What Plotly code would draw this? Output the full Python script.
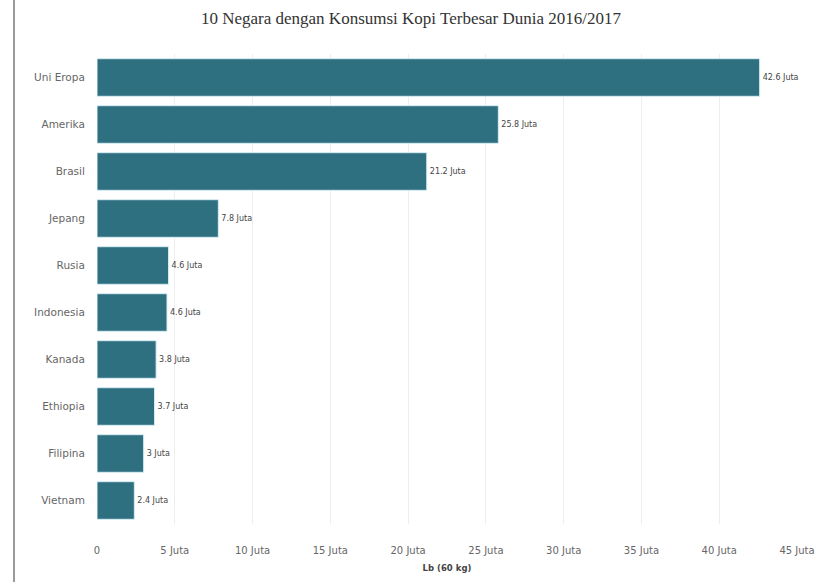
import plotly.graph_objects as go

countries = ["Uni Eropa", "Amerika", "Brasil", "Jepang", "Rusia",
             "Indonesia", "Kanada", "Ethiopia", "Filipina", "Vietnam"]
values = [42.6, 25.8, 21.2, 7.8, 4.6, 4.5, 3.8, 3.7, 3.0, 2.4]
labels = ["42.6 Juta", "25.8 Juta", "21.2 Juta", "7.8 Juta", "4.6 Juta",
          "4.6 Juta", "3.8 Juta", "3.7 Juta", "3 Juta", "2.4 Juta"]
tick_vals = [0, 5, 10, 15, 20, 25, 30, 35, 40, 45]
tick_text = ["0", "5 Juta", "10 Juta", "15 Juta", "20 Juta", "25 Juta",
             "30 Juta", "35 Juta", "40 Juta", "45 Juta"]

W, H = 822, 582
ml, mr, mt, mb = 97, 25, 54, 58

fig = go.Figure(go.Bar(
    x=values, y=countries, orientation="h",
    marker=dict(color="#2e6f80", line=dict(color="#d8eef4", width=1)),
    text=labels, textposition="outside", cliponaxis=False,
    textfont=dict(size=8, color="#444", family="DejaVu Sans"),
    width=0.8,
))

plot_w = W - ml - mr
fig.add_shape(type="line", xref="paper", yref="paper",
              x0=(14 - ml) / plot_w, x1=(14 - ml) / plot_w,
              y0=-mb / (H - mt - mb), y1=1 + mt / (H - mt - mb),
              line=dict(color="#9a9a9a", width=2))

fig.update_layout(
    width=W, height=H,
    margin=dict(l=ml, r=mr, t=mt, b=mb),
    paper_bgcolor="white", plot_bgcolor="white",
    title=dict(text="10 Negara dengan Konsumsi Kopi Terbesar Dunia 2016/2017",
               x=0.5, xref="container", xanchor="center",
               y=1 - 18 / H, yanchor="middle",
               font=dict(family="Liberation Serif", size=17, color="#333")),
    xaxis=dict(range=[0, 45], tickvals=tick_vals, ticktext=tick_text,
               showgrid=True, gridcolor="#eeeeee", zeroline=False,
               automargin=False,
               ticks="outside", ticklen=17, tickcolor="rgba(0,0,0,0)",
               tickfont=dict(family="DejaVu Sans", size=10, color="#666"),
               title=dict(text="<b>Lb (60 kg)</b>", standoff=10,
                          font=dict(family="DejaVu Sans", size=8.5, color="#444"))),
    yaxis=dict(autorange="reversed", showgrid=False, automargin=False,
               ticks="outside", ticklen=9, tickcolor="rgba(0,0,0,0)",
               tickfont=dict(family="DejaVu Sans", size=10.5, color="#666")),
    showlegend=False,
    bargap=0.2,
)

fig.write_html("out.html")
